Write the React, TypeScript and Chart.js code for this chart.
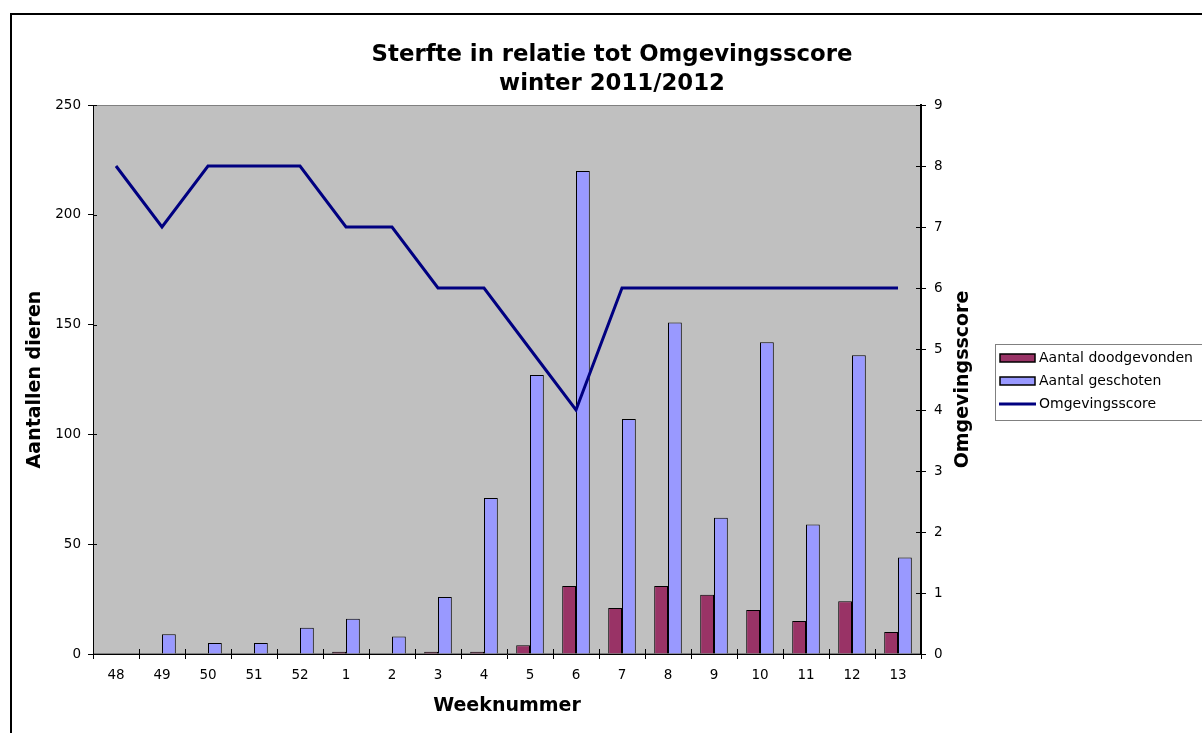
import React, { useEffect, useRef } from 'react';
import { Chart, registerables } from 'chart.js';

Chart.register(...registerables);

const weeks = ['48', '49', '50', '51', '52', '1', '2', '3', '4', '5', '6', '7', '8', '9', '10', '11', '12', '13'];
const aantalDoodgevonden = [0, 0, 0, 0, 0, 1, 0, 1, 1, 4, 31, 21, 31, 27, 20, 15, 24, 10];
const aantalGeschoten = [0, 9, 5, 5, 12, 16, 8, 26, 71, 127, 220, 107, 151, 62, 142, 59, 136, 44];
const omgevingsscore = [8, 7, 8, 8, 8, 7, 7, 6, 6, 5, 4, 6, 6, 6, 6, 6, 6, 6];

const seriesLabels = ['Aantal doodgevonden', 'Aantal geschoten', 'Omgevingsscore'];
const titleLines = ['Sterfte in relatie tot Omgevingsscore', 'winter 2011/2012'];
const xTitle = 'Weeknummer';
const yLeftTitle = 'Aantallen dieren';
const yRightTitle = 'Omgevingsscore';
const yLeftMax = 250;
const yLeftStep = 50;
const yRightMax = 9;
const yRightStep = 1;

const FONT = '"DejaVu Sans", sans-serif';

export default function App() {
  const ref = useRef<HTMLCanvasElement>(null);

  useEffect(() => {
    const canvas = ref.current;
    if (!canvas) return;

    const decor = {
      id: 'decor',
      beforeDraw(chart: any) {
        const { ctx, chartArea: a } = chart;
        ctx.save();
        ctx.fillStyle = '#ffffff';
        ctx.fillRect(0, 0, chart.width, chart.height);
        ctx.fillStyle = '#C0C0C0';
        ctx.fillRect(a.left, a.top, a.right - a.left, a.bottom - a.top);
        ctx.strokeStyle = '#808080';
        ctx.lineWidth = 1;
        ctx.strokeRect(a.left + 0.5, a.top + 0.5, a.right - a.left - 1, a.bottom - a.top - 1);
        ctx.strokeStyle = '#000000';
        ctx.lineWidth = 2;
        ctx.strokeRect(11, 14, chart.width + 40, chart.height + 40);
        ctx.restore();
      },
      afterDatasetsDraw(chart: any) {
        // inner halves of the tick marks (crossing the axis lines)
        const { ctx, chartArea: a, scales } = chart;
        ctx.save();
        ctx.strokeStyle = '#000';
        ctx.lineWidth = 1;
        ctx.beginPath();
        const xs = scales.x;
        for (let k = 0; k <= weeks.length; k++) {
          const px = Math.round(xs.getPixelForValue(k - 0.5)) + 0.5;
          ctx.moveTo(px, a.bottom);
          ctx.lineTo(px, a.bottom - 5);
        }
        scales.y.ticks.forEach((t: any) => {
          const py = Math.round(scales.y.getPixelForValue(t.value)) + 0.5;
          ctx.moveTo(a.left, py);
          ctx.lineTo(a.left + 4, py);
        });
        scales.y1.ticks.forEach((t: any) => {
          const py = Math.round(scales.y1.getPixelForValue(t.value)) + 0.5;
          ctx.moveTo(a.right, py);
          ctx.lineTo(a.right - 5, py);
        });
        ctx.stroke();
        ctx.restore();
      },
      afterDraw(chart: any) {
        const { ctx, chartArea: a } = chart;
        ctx.save();
        // Title
        ctx.fillStyle = '#000';
        ctx.font = `bold 22.8px ${FONT}`;
        ctx.textAlign = 'center';
        ctx.textBaseline = 'middle';
        ctx.fillText(titleLines[0], 612, 55);
        ctx.fillText(titleLines[1], 612, 84);

        // Right axis title (reads bottom to top)
        ctx.save();
        ctx.translate(963, (a.top + a.bottom) / 2);
        ctx.rotate(-Math.PI / 2);
        ctx.font = `bold 19px ${FONT}`;
        ctx.fillText(yRightTitle, 0, 0);
        ctx.restore();

        // Legend
        const lx = 995;
        const ly = 344;
        ctx.fillStyle = '#ffffff';
        ctx.fillRect(lx, ly, 240, 76);
        ctx.strokeStyle = '#808080';
        ctx.lineWidth = 1;
        ctx.strokeRect(lx + 0.5, ly + 0.5, 240, 76);
        ctx.font = `14px ${FONT}`;
        ctx.textAlign = 'left';
        ctx.textBaseline = 'middle';
        chart.data.datasets.forEach((ds: any, i: number) => {
          const cy = ly + 14 + i * 23;
          if (ds.type === 'line') {
            ctx.strokeStyle = ds.borderColor;
            ctx.lineWidth = 3;
            ctx.beginPath();
            ctx.moveTo(lx + 4, cy);
            ctx.lineTo(lx + 41, cy);
            ctx.stroke();
          } else {
            ctx.fillStyle = ds.backgroundColor;
            ctx.fillRect(lx + 5, cy - 4, 35, 8);
            ctx.strokeStyle = '#000';
            ctx.lineWidth = 1.5;
            ctx.strokeRect(lx + 5, cy - 4, 35, 8);
          }
          ctx.fillStyle = '#000';
          ctx.fillText(ds.label, lx + 44, cy);
        });
        ctx.restore();
      },
    };

    const chart = new Chart(canvas, {
      type: 'bar',
      data: {
        labels: weeks,
        datasets: [
          {
            type: 'bar',
            label: seriesLabels[0],
            data: aantalDoodgevonden,
            backgroundColor: '#993366',
            borderColor: '#000000',
            borderWidth: 1,
            yAxisID: 'y',
            order: 1,
            categoryPercentage: 0.6,
            barPercentage: 1,
          },
          {
            type: 'bar',
            label: seriesLabels[1],
            data: aantalGeschoten,
            backgroundColor: '#9999FF',
            borderColor: '#000000',
            borderWidth: 1,
            yAxisID: 'y',
            order: 1,
            categoryPercentage: 0.6,
            barPercentage: 1,
          },
          {
            type: 'line',
            label: seriesLabels[2],
            data: omgevingsscore,
            borderColor: '#000080',
            backgroundColor: '#000080',
            borderWidth: 3,
            pointRadius: 0,
            tension: 0,
            yAxisID: 'y1',
            order: 0,
          },
        ],
      } as any,
      options: {
        responsive: false,
        animation: false,
        events: [],
        layout: { padding: { left: 10, top: 105, right: 221, bottom: 0 } },
        plugins: {
          legend: { display: false },
          title: { display: false },
          tooltip: { enabled: false },
        },
        scales: {
          x: {
            type: 'category',
            offset: true,
            grid: { offset: true, drawOnChartArea: false, drawTicks: true, tickLength: 5, color: '#000' },
            border: { display: true, color: '#000', width: 1 },
            ticks: { color: '#000', font: { family: FONT, size: 13.5 }, padding: 8, maxRotation: 0, autoSkip: false },
            title: {
              display: true,
              text: xTitle,
              color: '#000',
              font: { family: FONT, size: 19, weight: 'bold' },
              padding: { top: 0, bottom: 16 },
            },
            afterFit: (s: any) => { s.height = 79; },
          },
          y: {
            position: 'left',
            min: 0,
            max: yLeftMax,
            ticks: { stepSize: yLeftStep, color: '#000', font: { family: FONT, size: 13.5 }, padding: 7 },
            grid: { drawOnChartArea: false, drawTicks: true, tickLength: 5, color: '#000' },
            border: { display: true, color: '#000', width: 1 },
            title: {
              display: true,
              text: yLeftTitle,
              color: '#000',
              font: { family: FONT, size: 19, weight: 'bold' },
              padding: { top: 14, bottom: 0 },
            },
            afterFit: (s: any) => { s.width = 83; },
          },
          y1: {
            position: 'right',
            min: 0,
            max: yRightMax,
            ticks: { stepSize: yRightStep, color: '#000', font: { family: FONT, size: 13.5 }, padding: 8 },
            grid: { drawOnChartArea: false, drawTicks: true, tickLength: 5, color: '#000' },
            border: { display: true, color: '#000', width: 2 },
            afterFit: (s: any) => { s.width = 60; },
          },
        },
      } as any,
      plugins: [decor],
    });

    return () => chart.destroy();
  }, []);

  return (
    <div style={{ position: 'absolute', left: 0, top: 0, width: 1202, height: 733 }}>
      <canvas ref={ref} width={1202} height={733} style={{ display: 'block' }} />
    </div>
  );
}
